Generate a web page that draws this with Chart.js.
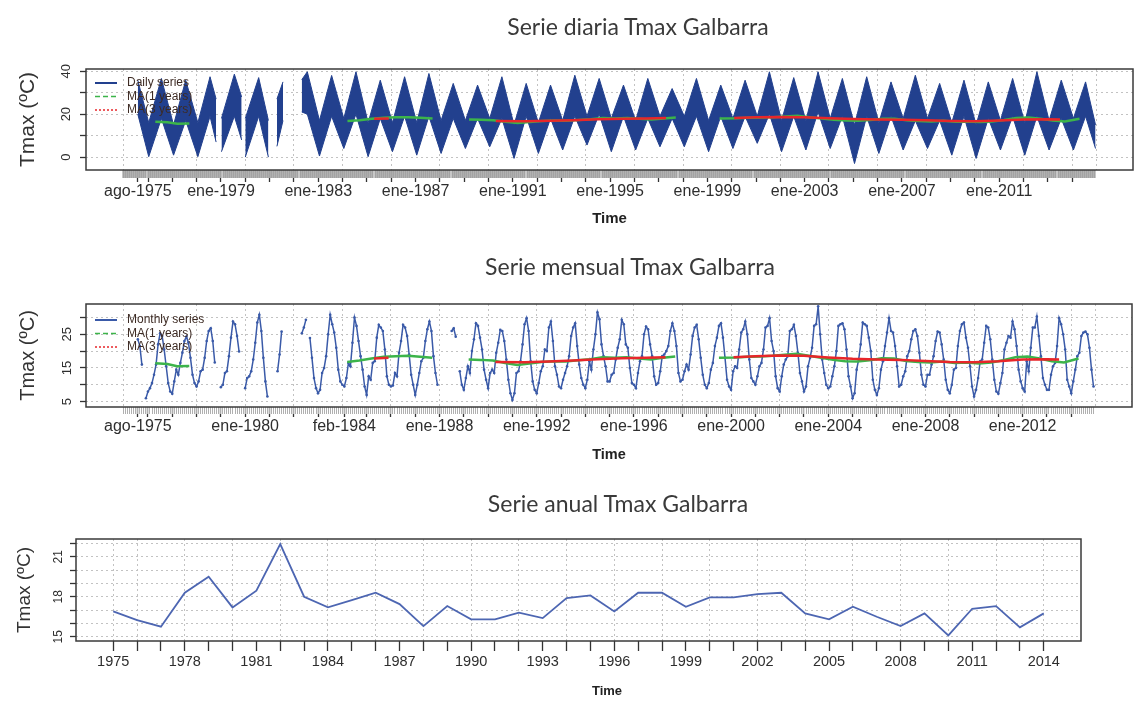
<!DOCTYPE html>
<html lang="es">
<head>
<meta charset="UTF-8">
<meta name="viewport" content="width=device-width, initial-scale=1.0">
<title>Tmax Galbarra</title>
<script src="https://cdn.jsdelivr.net/npm/chart.js"></script>
<style>
  body { margin: 0; background: #fff; width: 1136px; height: 708px; overflow: hidden; position: relative; }
  .panel { position: absolute; left: 0; width: 1136px; }
  .titulo { position: absolute; width: 600px; text-align: center; font-family: Lato, 'Open Sans', sans-serif;
            font-size: 23px; line-height: 23px; color: #3a3a3a; white-space: nowrap; }
  .time { position: absolute; width: 100px; text-align: center; font-family: 'Liberation Sans', Arial, sans-serif;
          font-weight: bold; font-size: 13px; line-height: 13px; color: #222; }
</style>
</head>
<body>
  <div class="panel" style="top:0;height:232px"><canvas id="diaria"></canvas></div>
  <div class="panel" style="top:232px;height:236px"><canvas id="mensual"></canvas></div>
  <div class="panel" style="top:468px;height:240px"><canvas id="anual"></canvas></div>
  <div class="titulo" style="left:338px;top:15px">Serie diaria Tmax Galbarra</div>
  <div class="titulo" style="left:330px;top:255px">Serie mensual Tmax Galbarra</div>
  <div class="titulo" style="left:318px;top:492px">Serie anual Tmax Galbarra</div>
  <div class="time" style="left:557px;top:684px">Time</div>

<script>
// ---- Datos ----

// Serie diaria: envolvente superior / inferior de la banda de valores diarios (null = hueco)
const diariaTiempo = [
  1975.58, 1976.03, 1976.55, 1977.05, 1977.55, 1978.05, 1978.55, 1978.80, 1978.90,
  1979.02, 1979.55, 1979.85, 1979.92, 1980.00, 1980.55, 1980.95, 1981.10,
  1981.30, 1981.55, 1981.90,
  1982.32, 1982.55, 1983.05, 1983.55, 1984.05, 1984.55, 1985.05, 1985.55, 1986.05, 1986.55,
  1987.05, 1987.55, 1988.05, 1988.55, 1989.05, 1989.55, 1990.05, 1990.55, 1991.05, 1991.55,
  1992.05, 1992.55, 1993.05, 1993.55, 1994.05, 1994.55, 1995.05, 1995.55, 1996.05, 1996.55,
  1997.05, 1997.55, 1998.05, 1998.55, 1999.05, 1999.55, 2000.05, 2000.55, 2001.05, 2001.55,
  2002.05, 2002.55, 2003.05, 2003.55, 2004.05, 2004.55, 2005.05, 2005.55, 2006.05, 2006.55,
  2007.05, 2007.55, 2008.05, 2008.55, 2009.05, 2009.55, 2010.05, 2010.55, 2011.05, 2011.55,
  2012.05, 2012.55, 2013.05, 2013.55, 2014.05, 2014.55, 2014.96
];
const diariaSup = [
  35.8, 16, 36.6, 15, 35.8, 16, 37.4, 27, null,
  18, 38.6, 28, null, 18, 37, 17, null,
  27, 35, null,
  36, 39.7, 17, 38, 18, 39.7, 16, 35.8, 16, 37.4,
  16, 38.9, 17, 34.3, 17, 33.5, 18, 37.4, 15, 34.3,
  16, 33.5, 17, 38.1, 19, 36.6, 18, 33.5, 17, 36.6,
  19, 31.9, 19, 36.6, 17, 33.5, 18, 35.8, 19, 39.7,
  17, 37, 17, 39.7, 18, 36.6, 15, 37.4, 16, 35,
  18, 38.1, 18, 34.3, 16, 35.8, 15, 35, 17, 36.6,
  16, 39.7, 17, 35.8, 18, 35, 15
];
const diariaInf = [
  20, 0.2, 18, 0.9, 17, 0.2, 19, 7, null,
  2.5, 19, 8, null, 0, 19, 0, null,
  5, 17, null,
  21, 20, 0.5, 19, 4, 20, 0.2, 18, 2.5, 19,
  0.9, 19, 1.7, 18, 4, 18, 4.8, 18, -0.6, 19,
  1.7, 18, 3.3, 19, 5.6, 20, 2.5, 19, 3.3, 18,
  4.8, 18, 4.8, 19, 2.5, 19, 4, 19, 6.4, 20,
  2.5, 19, 3.3, 21, 4, 19, -3, 19, 1.7, 19,
  3.3, 17, 4, 17, 0.9, 19, -0.6, 18, 3.3, 19,
  0.9, 19, 3.3, 18, 3.3, 19, 4
];

// Serie mensual: ene-1975 ... dic-2014, una fila por año (null = mes sin dato)
const mensualInicio = 1975;
const mensualTmax = [
  null, null, null, null, null, null, null, 23.5, 21.5, 16.0, null, 6.0,   // 1975
  8.0, 9.0, 10.5, 13.0, 16.0, 22.0, 25.3, 24.5, 20.5, 15.5, 10.5, 8.0,    // 1976
  7.3, 11.0, 14.5, 13.0, 16.5, 19.5, 23.0, 24.3, 22.5, 18.0, 13.0, 10.5,  // 1977
  9.5, 11.0, 14.0, 14.5, 18.0, 23.0, 26.0, 26.8, 23.0, 16.6, null, null,  // 1978
  9.3, 10.0, 13.5, 14.0, 18.5, 24.0, 28.8, 28.0, 24.5, 19.9, null, null,  // 1979
  9.0, 12.0, 12.5, 14.0, 17.5, 22.5, 28.5, 30.8, 26.0, 18.0, 11.0, 6.5,   // 1980
  null, null, null, null, 14.0, 19.0, 25.8, null, null, null, null, null, // 1981
  null, null, null, null, 25.3, 27.0, 29.3, null, 23.9, 18.0, 12.0, 9.0,  // 1982
  7.5, 8.5, 13.5, 15.0, 18.5, 25.0, 30.8, 28.0, 25.5, 21.0, 14.5, 11.0,   // 1983
  10.0, 9.5, 12.0, 16.5, 15.5, 22.5, 30.0, 27.5, 23.0, 18.5, 14.5, 9.5,   // 1984
  7.0, 12.5, 11.5, 16.5, 17.0, 24.0, 27.8, 27.0, 26.0, 20.5, 12.5, 10.0,  // 1985
  9.5, 9.8, 13.5, 12.5, 19.5, 23.0, 27.8, 27.0, 24.5, 19.0, 13.0, 10.0,   // 1986
  7.0, 10.0, 13.5, 17.0, 18.0, 23.0, 26.5, 28.8, 26.0, 18.5, 13.5, 10.0,  // 1987
  null, null, null, null, null, null, 26.0, 26.8, 24.3, null, 14.0, 10.0, // 1988
  8.5, 12.0, 15.5, 13.5, 20.0, 23.5, 28.3, 27.5, 24.0, 20.5, 14.5, 11.5,  // 1989
  9.0, 13.5, 14.5, 13.5, 19.5, 22.5, 26.3, 26.0, 23.0, 17.5, 11.5, 7.5,   // 1990
  5.5, 7.5, 13.5, 14.0, 17.0, 22.0, 28.0, 29.8, 26.0, 17.0, 11.0, 8.5,    // 1991
  7.5, 10.5, 14.0, 15.5, 20.5, 20.0, 27.0, 28.8, 23.0, 15.5, 13.0, 9.5,   // 1992
  9.0, 11.5, 13.5, 15.5, 18.5, 24.5, 27.0, 28.3, 21.5, 16.0, 12.0, 10.0,  // 1993
  9.0, 11.5, 17.0, 14.5, 20.5, 25.0, 31.5, 29.5, 22.0, 18.5, 15.5, 11.0,  // 1994
  11.0, 13.0, 13.5, 17.5, 21.0, 23.5, 29.3, 28.0, 22.0, 21.0, 15.0, 10.5, // 1995
  10.0, 9.0, 13.5, 17.0, 18.5, 25.0, 27.3, 26.5, 22.0, 18.5, 12.5, 10.0,  // 1996
  10.5, 14.0, 18.5, 19.0, 20.0, 21.5, 26.0, 28.3, 26.0, 21.5, 13.5, 11.0, // 1997
  11.5, 14.0, 16.0, 14.5, 19.0, 24.5, 27.0, 27.8, 23.5, 18.0, 13.0, 10.0, // 1998
  9.0, 10.5, 14.5, 16.5, 21.5, 24.0, 27.5, 28.3, 24.0, 18.0, 11.5, 9.5,   // 1999
  8.5, 14.0, 15.5, 15.0, 20.5, 25.5, 26.5, 28.8, 25.0, 17.5, 12.0, 11.0,  // 2000
  10.0, 12.5, 15.5, 16.5, 20.5, 27.0, 27.5, 29.8, 23.0, 20.0, 12.5, 9.0,  // 2001
  8.0, 12.5, 16.0, 17.5, 18.5, 26.0, 26.5, 27.8, 24.5, 19.5, 13.5, 11.0,  // 2002
  8.0, 9.5, 15.5, 18.0, 21.0, 27.5, 28.0, 33.3, 25.0, 17.5, 13.5, 10.0,   // 2003
  9.0, 9.5, 12.5, 15.5, 20.0, 27.5, 28.0, 28.3, 26.5, 20.5, 12.5, 9.5,    // 2004
  6.0, 7.5, 14.5, 17.5, 22.0, 28.5, 28.0, 27.5, 24.0, 20.0, 11.5, 8.5,    // 2005
  7.0, 9.0, 14.5, 17.0, 21.5, 25.5, 29.8, 26.0, 25.5, 21.5, 15.5, 9.5,    // 2006
  10.0, 12.5, 14.0, 18.5, 20.0, 23.5, 26.0, 26.5, 24.5, 19.5, 13.0, 10.0, // 2007
  9.5, 13.0, 13.0, 16.0, 18.5, 23.0, 25.8, 25.5, 22.0, 17.5, 11.5, 8.5,   // 2008
  7.5, 10.0, 14.5, 15.0, 21.5, 26.0, 28.0, 28.5, 24.0, 21.0, 15.5, 9.5,   // 2009
  6.5, 8.5, 12.0, 17.0, 17.5, 22.5, 27.5, 27.0, 23.5, 17.5, 11.5, 8.0,    // 2010
  7.3, 10.5, 13.5, 20.5, 22.5, 24.5, 24.0, 28.8, 26.5, 21.5, 14.5, 11.0,  // 2011
  9.0, 8.0, 17.0, 14.0, 21.0, 27.0, 27.0, 30.3, 24.5, 18.5, 12.0, 10.0,   // 2012
  8.5, 8.5, 13.0, 15.5, 16.5, 21.5, 29.8, 28.0, 25.0, 20.5, 11.5, 9.5,    // 2013
  7.5, 11.0, 14.5, 18.5, 19.5, 24.5, 25.5, 25.8, 25.0, 21.0, 14.5, 9.5    // 2014
];

// Medias móviles (null = tramo sin valor)
const ma1Tiempo = [
  1976.3, 1976.8, 1977.2, 1977.7, 1977.8,
  1984.2, 1984.7, 1985.2, 1985.7, 1986.2, 1986.7, 1987.2, 1987.7, 1988.0,
  1989.2, 1989.7, 1990.2, 1990.7, 1991.2, 1991.7, 1992.2, 1992.7, 1993.2, 1993.7,
  1994.2, 1994.7, 1995.2, 1995.7, 1996.2, 1996.7, 1997.2, 1997.7, 1998.0,
  1999.5, 2000.2, 2000.7, 2001.2, 2001.7, 2002.2, 2002.7, 2003.2, 2003.7, 2004.2,
  2004.7, 2005.2, 2005.7, 2006.2, 2006.7, 2007.2, 2007.7, 2008.2, 2008.7, 2009.2,
  2009.7, 2010.2, 2010.7, 2011.2, 2011.7, 2012.2, 2012.7, 2013.2, 2013.7, 2014.3
];
const ma1Valor = [
  16.4, 16.2, 15.5, 15.6, null,
  16.8, 17.2, 17.8, 18.3, 18.5, 18.6, 18.3, 18.0, null,
  17.5, 17.4, 17.2, 16.5, 15.9, 16.3, 16.8, 17.0, 16.9, 17.3,
  17.6, 18.2, 18.0, 18.2, 17.8, 17.5, 18.0, 18.4, null,
  18.0, 18.1, 18.3, 18.4, 18.6, 18.9, 19.2, 18.6, 18.0, 17.4,
  17.0, 16.9, 17.3, 17.9, 17.8, 17.1, 16.8, 16.6, 16.9, 16.5,
  16.6, 16.3, 16.6, 17.3, 18.2, 18.4, 17.8, 17.0, 16.6, 17.8
];
const ma3Tiempo = [
  1985.3, 1985.9, 1986.0,
  1990.3, 1991.5, 1992.5, 1993.5, 1994.5, 1995.5, 1996.5, 1997.3, 1997.5,
  2000.1, 2001.0, 2002.0, 2003.0, 2004.0, 2005.0, 2006.0, 2007.0, 2008.0,
  2009.0, 2010.0, 2011.0, 2012.0, 2013.0, 2013.5
];
const ma3Valor = [
  17.8, 18.0, null,
  16.8, 16.7, 16.9, 17.2, 17.6, 17.9, 18.0, 18.2, null,
  18.2, 18.5, 18.7, 18.6, 18.1, 17.7, 17.5, 17.4, 17.1,
  16.8, 16.7, 17.0, 17.5, 17.6, 17.5
];

// Serie anual
const anualAnios = [
  1975, 1976, 1977, 1978, 1979, 1980, 1981, 1982, 1983, 1984, 1985, 1986, 1987, 1988,
  1989, 1990, 1991, 1992, 1993, 1994, 1995, 1996, 1997, 1998, 1999, 2000, 2001, 2002,
  2003, 2004, 2005, 2006, 2007, 2008, 2009, 2010, 2011, 2012, 2013, 2014
];
const anualTmax = [
  16.9, 16.25, 15.75, 18.3, 19.5, 17.2, 18.45, 21.95, 18.0, 17.2, 17.75, 18.3, 17.45, 15.8,
  17.3, 16.3, 16.3, 16.8, 16.4, 17.9, 18.1, 16.9, 18.3, 18.3, 17.25, 17.95, 17.95, 18.2,
  18.3, 16.75, 16.3, 17.25, 16.5, 15.8, 16.75, 15.1, 17.1, 17.3, 15.7, 16.75
];

// ---- Marcas y etiquetas de los ejes ----
const marcasDiaria = [
  1975.583, 1976, 1977, 1978, 1979, 1980, 1981, 1982, 1983, 1984, 1985, 1986, 1987, 1988,
  1989, 1990, 1991, 1992, 1993, 1994, 1995, 1996, 1997, 1998, 1999, 2000, 2001, 2002,
  2003, 2004, 2005, 2006, 2007, 2008, 2009, 2010, 2011, 2012, 2013, 2014
];
const marcasMensual = [
  1975.583, 1976, 1977, 1978, 1979, 1980, 1981, 1982, 1983, 1984.083, 1985, 1986, 1987, 1988,
  1989, 1990, 1991, 1992, 1993, 1994, 1995, 1996, 1997, 1998, 1999, 2000, 2001, 2002,
  2003, 2004, 2005, 2006, 2007, 2008, 2009, 2010, 2011, 2012, 2013, 2014
];
const etqDiariaPos = [1975.583, 1979, 1983, 1987, 1991, 1995, 1999, 2003, 2007, 2011];
const etqDiariaTxt = ['ago-1975', 'ene-1979', 'ene-1983', 'ene-1987', 'ene-1991',
  'ene-1995', 'ene-1999', 'ene-2003', 'ene-2007', 'ene-2011'];
const etqMensualPos = [1975.583, 1980, 1984.083, 1988, 1992, 1996, 2000, 2004, 2008, 2012];
const etqMensualTxt = ['ago-1975', 'ene-1980', 'feb-1984', 'ene-1988', 'ene-1992',
  'ene-1996', 'ene-2000', 'ene-2004', 'ene-2008', 'ene-2012'];
const etqAnual = [1975, 1978, 1981, 1984, 1987, 1990, 1993, 1996, 1999, 2002, 2005, 2008, 2011, 2014];
const rejillaSerie = [1975, 1978, 1980, 1982, 1984, 1986, 1988, 1990, 1992, 1994, 1996, 1998,
  2000, 2002, 2004, 2006, 2008, 2010, 2012, 2014, 2015];
const rejillaAnual = [1975, 1976, 1978, 1980, 1982, 1984, 1986, 1988, 1990, 1992, 1994, 1996,
  1998, 2000, 2002, 2004, 2006, 2008, 2010, 2012, 2014];
const yDiaria = [0, 10, 20, 30, 40], yDiariaEtq = [0, 20, 40];
const yMensual = [5, 10, 15, 20, 25, 30], yMensualEtq = [5, 15, 25];
const yAnual = [15, 16, 17, 18, 19, 20, 21, 22], yAnualEtq = [15, 18, 21];

// marcas grises (una por mes) bajo el eje de las series diaria y mensual
const rugMeses = [];
for (let m = 0; m < 480; m++) rugMeses.push(1975 + m / 12);

// ---- Estilo ----
const fuente = "'Liberation Sans', Arial, sans-serif";
const azulDiaria = '#22408e';
const azulMensual = '#3a5aa8';
const azulAnual = '#4d66b2';
const verde = '#3cb44a';
const rojo = '#e8262a';
const gris = '#c2c2c2';
const texto = '#2e2e2e';

const puntos = (xs, ys) => xs.map((x, i) => ({ x: x, y: ys[i] }));
const fijar = lista => s => { s.ticks = lista.map(v => ({ value: v })); };

// marco completo alrededor del área de dibujo (como box() de R)
const marco = {
  id: 'marco',
  afterDatasetsDraw(chart) {
    const a = chart.chartArea, ctx = chart.ctx;
    ctx.save();
    ctx.strokeStyle = '#3a3a3a';
    ctx.lineWidth = 1.5;
    ctx.strokeRect(a.left, a.top, a.right - a.left, a.bottom - a.top);
    ctx.restore();
  }
};

// leyenda dentro del gráfico, arriba a la izquierda
const leyenda = {
  id: 'leyenda',
  afterDraw(chart, args, opts) {
    if (!opts.items) return;
    const ctx = chart.ctx, a = chart.chartArea;
    ctx.save();
    ctx.font = '12px ' + fuente;
    ctx.textBaseline = 'middle';
    opts.items.forEach((it, i) => {
      const y = a.top + opts.arriba + i * 13.5;
      const x = a.left + 9;
      ctx.strokeStyle = it.color;
      ctx.lineWidth = it.grosor;
      ctx.setLineDash(it.trazo);
      ctx.beginPath();
      ctx.moveTo(x, y);
      ctx.lineTo(x + 22, y);
      ctx.stroke();
      ctx.fillStyle = '#3d2b24';
      ctx.fillText(it.texto, x + 32, y);
    });
    ctx.restore();
  }
};

function ejes(c) {
  const escalas = {
    x: {
      type: 'linear', position: 'bottom', min: c.xmin, max: c.xmax, weight: 2,
      afterBuildTicks: fijar(c.marcas),
      afterFit: s => { s.height = c.altoX; },
      grid: { drawOnChartArea: false, tickLength: c.largoMarca, tickColor: '#333', tickWidth: 1.3 },
      border: { display: false },
      ticks: {
        autoSkip: false, maxRotation: 0, minRotation: 0, padding: c.sepEtq, color: texto,
        font: { family: fuente, size: c.tamEtq },
        callback: v => {
          const i = c.etqPos.findIndex(p => Math.abs(p - v) < 0.01);
          return i >= 0 ? c.etqTxt[i] : '';
        }
      },
      title: {
        display: c.tamTime > 0, text: 'Time', color: '#222',
        font: { family: fuente, size: c.tamTime, weight: 'bold' },
        padding: { top: 0, bottom: c.sepTime }
      }
    },
    xg: {
      type: 'linear', axis: 'x', position: 'bottom', min: c.xmin, max: c.xmax, weight: 0,
      afterBuildTicks: fijar(c.rejilla),
      afterFit: s => { s.height = 0; },
      ticks: { display: false },
      grid: { drawTicks: false, color: gris, lineWidth: 1 },
      border: { display: false, dash: [2, 3] }
    },
    y: {
      min: c.ymin, max: c.ymax,
      afterBuildTicks: fijar(c.ymarcas),
      afterFit: s => { s.width = c.anchoY; },
      grid: { color: gris, lineWidth: 1, tickColor: '#333', tickLength: 6, tickWidth: 1.3 },
      border: { display: false, dash: [2, 3] },
      ticks: {
        autoSkip: false, minRotation: 90, maxRotation: 90, crossAlign: 'center',
        padding: c.sepY, color: texto, font: { family: fuente, size: c.tamY },
        callback: v => c.yetq.includes(v) ? String(v) : ''
      },
      title: {
        display: true, text: 'Tmax (ºC)', color: '#333',
        font: { family: fuente, size: c.tamTituloY },
        padding: { top: c.sepTituloY, bottom: 0 }
      }
    }
  };
  if (c.rug) {
    escalas.xr = {
      type: 'linear', axis: 'x', position: 'bottom', min: c.xmin, max: c.xmax, weight: 1,
      afterBuildTicks: fijar(rugMeses),
      afterFit: s => { s.height = 0; },
      ticks: { display: false },
      grid: { drawOnChartArea: false, tickLength: c.rug.largo, tickColor: c.rug.color, tickWidth: c.rug.ancho },
      border: { display: false }
    };
  }
  return escalas;
}

const lineaBase = { pointRadius: 0, tension: 0, spanGaps: false, fill: false };

// ---- Serie diaria ----
new Chart(document.getElementById('diaria'), {
  type: 'line',
  data: {
    datasets: [
      Object.assign({}, lineaBase, { label: 'Daily series', data: puntos(diariaTiempo, diariaSup),
        borderColor: azulDiaria, backgroundColor: azulDiaria, borderWidth: 1, fill: '+1', order: 3 }),
      Object.assign({}, lineaBase, { label: 'Daily min', data: puntos(diariaTiempo, diariaInf),
        borderColor: azulDiaria, borderWidth: 1, order: 3 }),
      Object.assign({}, lineaBase, { label: 'MA(1 years)', data: puntos(ma1Tiempo, ma1Valor),
        borderColor: verde, borderWidth: 2.5, order: 2 }),
      Object.assign({}, lineaBase, { label: 'MA(3 years)', data: puntos(ma3Tiempo, ma3Valor),
        borderColor: rojo, borderWidth: 2.5, order: 1 })
    ]
  },
  options: {
    responsive: true, maintainAspectRatio: false, animation: false, events: [],
    layout: { padding: { top: 69, right: 3, bottom: 0, left: 0 } },
    plugins: {
      legend: { display: false }, tooltip: { enabled: false },
      leyenda: {
        arriba: 14, items: [
          { texto: 'Daily series', color: azulDiaria, grosor: 2, trazo: [] },
          { texto: 'MA(1 years)', color: verde, grosor: 1.5, trazo: [5, 3] },
          { texto: 'MA(3 years)', color: rojo, grosor: 1.5, trazo: [2, 2] }
        ]
      }
    },
    scales: ejes({
      xmin: 1973.45, xmax: 2016.5, marcas: marcasDiaria, etqPos: etqDiariaPos, etqTxt: etqDiariaTxt,
      rejilla: rejillaSerie, altoX: 62, largoMarca: 12, sepEtq: 0, tamEtq: 16, tamTime: 15, sepTime: 4,
      ymin: -6, ymax: 41, ymarcas: yDiaria, yetq: yDiariaEtq, anchoY: 86, sepY: 6, tamY: 13,
      tamTituloY: 21, sepTituloY: 16,
      rug: { largo: 8, color: '#a3a3a3', ancho: 2.2 }
    })
  },
  plugins: [marco, leyenda]
});

// ---- Serie mensual ----
new Chart(document.getElementById('mensual'), {
  type: 'line',
  data: {
    datasets: [
      Object.assign({}, lineaBase, { label: 'Monthly series',
        data: mensualTmax.map((v, i) => ({ x: mensualInicio + i / 12, y: v })),
        borderColor: azulMensual, backgroundColor: azulMensual, borderWidth: 1.5,
        pointRadius: 1.3, pointBorderWidth: 0, order: 3 }),
      Object.assign({}, lineaBase, { label: 'MA(1 years)', data: puntos(ma1Tiempo, ma1Valor),
        borderColor: verde, borderWidth: 2.5, order: 2 }),
      Object.assign({}, lineaBase, { label: 'MA(3 years)', data: puntos(ma3Tiempo, ma3Valor),
        borderColor: rojo, borderWidth: 2.5, order: 1 })
    ]
  },
  options: {
    responsive: true, maintainAspectRatio: false, animation: false, events: [],
    layout: { padding: { top: 72, right: 3, bottom: 0, left: 0 } },
    plugins: {
      legend: { display: false }, tooltip: { enabled: false },
      leyenda: {
        arriba: 16, items: [
          { texto: 'Monthly series', color: azulMensual, grosor: 2, trazo: [] },
          { texto: 'MA(1 years)', color: verde, grosor: 1.5, trazo: [5, 3] },
          { texto: 'MA(3 years)', color: rojo, grosor: 1.5, trazo: [2, 2] }
        ]
      }
    },
    scales: ejes({
      xmin: 1973.45, xmax: 2016.5, marcas: marcasMensual, etqPos: etqMensualPos, etqTxt: etqMensualTxt,
      rejilla: rejillaSerie, altoX: 61, largoMarca: 10, sepEtq: 0, tamEtq: 16, tamTime: 14.5, sepTime: 4,
      ymin: 3.4, ymax: 34, ymarcas: yMensual, yetq: yMensualEtq, anchoY: 86, sepY: 5, tamY: 13,
      tamTituloY: 20, sepTituloY: 16,
      rug: { largo: 7, color: '#b0b0b0', ancho: 1 }
    })
  },
  plugins: [marco, leyenda]
});

// ---- Serie anual ----
new Chart(document.getElementById('anual'), {
  type: 'line',
  data: {
    datasets: [
      Object.assign({}, lineaBase, { label: 'Annual series', data: puntos(anualAnios, anualTmax),
        borderColor: azulAnual, borderWidth: 1.8 })
    ]
  },
  options: {
    responsive: true, maintainAspectRatio: false, animation: false, events: [],
    layout: { padding: { top: 71, right: 55, bottom: 0, left: 0 } },
    plugins: {
      legend: { display: false }, tooltip: { enabled: false }
    },
    scales: ejes({
      xmin: 1973.44, xmax: 2015.56, marcas: anualAnios, etqPos: etqAnual,
      etqTxt: etqAnual.map(String),
      rejilla: rejillaAnual, altoX: 67, largoMarca: 10, sepEtq: 2, tamEtq: 14.5, tamTime: 0, sepTime: 0,
      ymin: 14.68, ymax: 22.33, ymarcas: yAnual, yetq: yAnualEtq, anchoY: 76, sepY: 5, tamY: 12,
      tamTituloY: 19, sepTituloY: 13
    })
  },
  plugins: [marco]
});
</script>
</body>
</html>
